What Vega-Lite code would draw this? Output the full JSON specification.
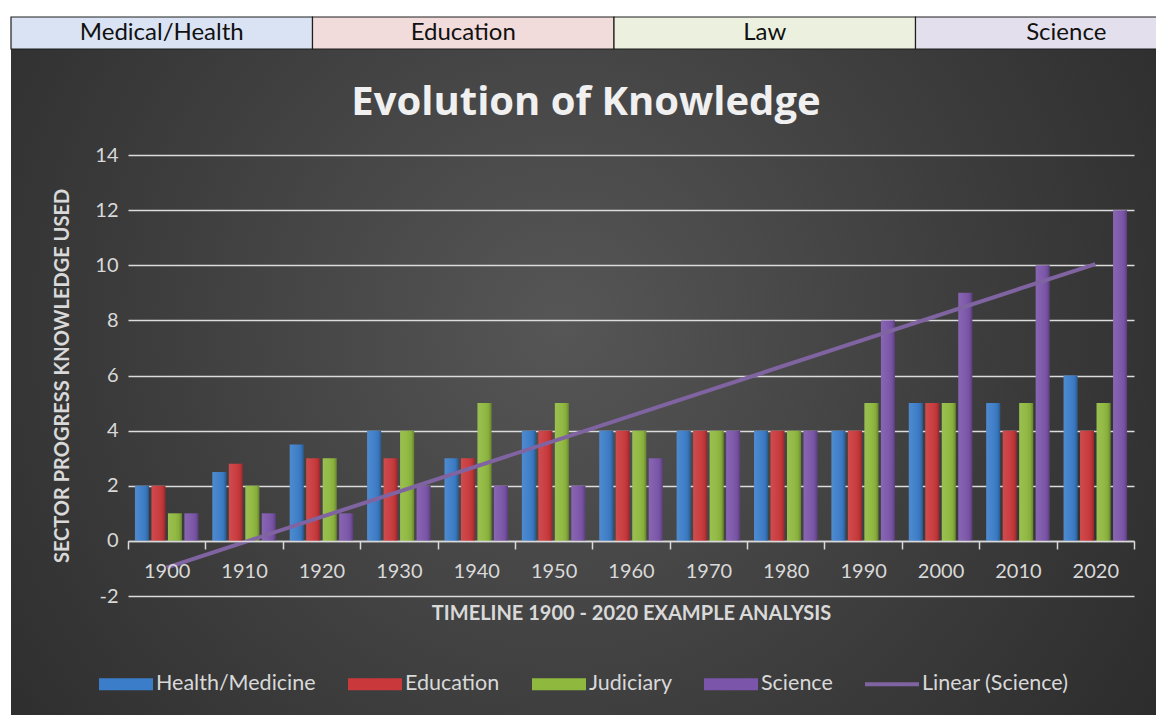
{
  "$schema": "https://vega.github.io/schema/vega-lite/v6.json",
  "background": "white",
  "padding": {"left": 10, "top": 16, "right": -60, "bottom": 0},
  "config": {"view": {"stroke": null}, "font": "Lato"},
  "bounds": "flush",
  "spacing": 106,
  "resolve": {"scale": {"color": "independent"}, "legend": {"color": "independent"}},
  "vconcat": [
    {
      "width": 1006,
      "height": 32,
      "data": {"values": [
        {"sector": "Medical/Health"},
        {"sector": "Education"},
        {"sector": "Law"},
        {"sector": "Science"}
      ]},
      "layer": [
        {
          "mark": {
            "type": "rect",
            "fill": {
              "gradient": "radial",
              "x1": 0.48, "y1": 0.45, "r1": 0,
              "x2": 0.48, "y2": 0.45, "r2": 0.72,
              "stops": [
                {"offset": 0, "color": "#565656"},
                {"offset": 0.5, "color": "#3d3d3d"},
                {"offset": 1, "color": "#262626"}
              ]
            }
          },
          "encoding": {
            "x": {"datum": 0, "type": "quantitative", "scale": {"domain": [0, 1], "range": [-117, 1029], "nice": false}, "axis": null},
            "x2": {"datum": 1},
            "y": {"datum": 0, "type": "quantitative", "scale": {"domain": [0, 1], "range": [32, 699], "nice": false}, "axis": null},
            "y2": {"datum": 1}
          }
        },
        {
          "mark": {"type": "rect", "stroke": "#1e1e1e", "strokeWidth": 1.2},
          "encoding": {
            "x": {"field": "sector", "type": "nominal", "sort": null, "scale": {"range": [-117, 1089], "paddingInner": 0, "paddingOuter": 0}, "axis": null},
            "color": {
              "field": "sector", "type": "nominal", "sort": null,
              "scale": {"domain": ["Medical/Health", "Education", "Law", "Science"], "range": ["#dae3f3", "#f2dcdb", "#ebf1de", "#e4dfec"]},
              "legend": null
            }
          }
        },
        {
          "mark": {"type": "text", "fontSize": 24, "color": "#111111"},
          "encoding": {
            "x": {"field": "sector", "type": "nominal", "sort": null, "scale": {"range": [-117, 1089], "paddingInner": 0, "paddingOuter": 0}, "axis": null},
            "text": {"field": "sector"}
          }
        }
      ],
      "resolve": {"scale": {"x": "independent", "y": "independent"}}
    },
    {
      "width": 1006,
      "height": 441,
      "title": {
        "text": "Evolution of Knowledge",
        "font": "Open Sans",
        "fontSize": 40,
        "fontWeight": "bold",
        "color": "#f0f0f0",
        "anchor": "middle",
        "frame": "group",
        "dx": -45,
        "offset": 22
      },
      "data": {"values": [
        {"year": 1900, "series": "Health/Medicine", "value": 2},
        {"year": 1900, "series": "Education", "value": 2},
        {"year": 1900, "series": "Judiciary", "value": 1},
        {"year": 1900, "series": "Science", "value": 1},
        {"year": 1910, "series": "Health/Medicine", "value": 2.5},
        {"year": 1910, "series": "Education", "value": 2.8},
        {"year": 1910, "series": "Judiciary", "value": 2},
        {"year": 1910, "series": "Science", "value": 1},
        {"year": 1920, "series": "Health/Medicine", "value": 3.5},
        {"year": 1920, "series": "Education", "value": 3},
        {"year": 1920, "series": "Judiciary", "value": 3},
        {"year": 1920, "series": "Science", "value": 1},
        {"year": 1930, "series": "Health/Medicine", "value": 4},
        {"year": 1930, "series": "Education", "value": 3},
        {"year": 1930, "series": "Judiciary", "value": 4},
        {"year": 1930, "series": "Science", "value": 2},
        {"year": 1940, "series": "Health/Medicine", "value": 3},
        {"year": 1940, "series": "Education", "value": 3},
        {"year": 1940, "series": "Judiciary", "value": 5},
        {"year": 1940, "series": "Science", "value": 2},
        {"year": 1950, "series": "Health/Medicine", "value": 4},
        {"year": 1950, "series": "Education", "value": 4},
        {"year": 1950, "series": "Judiciary", "value": 5},
        {"year": 1950, "series": "Science", "value": 2},
        {"year": 1960, "series": "Health/Medicine", "value": 4},
        {"year": 1960, "series": "Education", "value": 4},
        {"year": 1960, "series": "Judiciary", "value": 4},
        {"year": 1960, "series": "Science", "value": 3},
        {"year": 1970, "series": "Health/Medicine", "value": 4},
        {"year": 1970, "series": "Education", "value": 4},
        {"year": 1970, "series": "Judiciary", "value": 4},
        {"year": 1970, "series": "Science", "value": 4},
        {"year": 1980, "series": "Health/Medicine", "value": 4},
        {"year": 1980, "series": "Education", "value": 4},
        {"year": 1980, "series": "Judiciary", "value": 4},
        {"year": 1980, "series": "Science", "value": 4},
        {"year": 1990, "series": "Health/Medicine", "value": 4},
        {"year": 1990, "series": "Education", "value": 4},
        {"year": 1990, "series": "Judiciary", "value": 5},
        {"year": 1990, "series": "Science", "value": 8},
        {"year": 2000, "series": "Health/Medicine", "value": 5},
        {"year": 2000, "series": "Education", "value": 5},
        {"year": 2000, "series": "Judiciary", "value": 5},
        {"year": 2000, "series": "Science", "value": 9},
        {"year": 2010, "series": "Health/Medicine", "value": 5},
        {"year": 2010, "series": "Education", "value": 4},
        {"year": 2010, "series": "Judiciary", "value": 5},
        {"year": 2010, "series": "Science", "value": 10},
        {"year": 2020, "series": "Health/Medicine", "value": 6},
        {"year": 2020, "series": "Education", "value": 4},
        {"year": 2020, "series": "Judiciary", "value": 5},
        {"year": 2020, "series": "Science", "value": 12}
      ]},
      "layer": [
        {
          "mark": {"type": "bar"},
          "encoding": {
            "x": {
              "field": "year", "type": "ordinal",
              "scale": {"paddingInner": 0, "paddingOuter": 0},
              "axis": {
                "title": "TIMELINE 1900 - 2020 EXAMPLE ANALYSIS",
                "offset": -55,
                "labelAngle": 0,
                "labelFontSize": 20,
                "labelColor": "#d9d9d9",
                "labelPadding": 12,
                "tickBand": "extent",
                "tickSize": 8,
                "tickColor": "#d9d9d9",
                "tickWidth": 1.5,
                "domainColor": "#d9d9d9",
                "domainWidth": 1.5,
                "titleFontSize": 20,
                "titleFontWeight": "bold",
                "titleColor": "#d9d9d9",
                "titlePadding": 22,
                "grid": false,
                "zindex": 1
              }
            },
            "xOffset": {
              "field": "series", "type": "nominal",
              "sort": ["Health/Medicine", "Education", "Judiciary", "Science"],
              "scale": {"paddingInner": 0.15, "paddingOuter": 0.42}
            },
            "y": {
              "field": "value", "type": "quantitative", "stack": null,
              "scale": {"domain": [-2, 14], "nice": false, "zero": false},
              "axis": {
                "title": "SECTOR PROGRESS KNOWLEDGE USED",
                "values": [-2, 0, 2, 4, 6, 8, 10, 12, 14],
                "labelExpr": "'' + datum.value",
                "grid": true,
                "gridColor": "#dcdcdc",
                "gridWidth": 1.5,
                "domain": false,
                "ticks": false,
                "labelPadding": 10,
                "labelFontSize": 20,
                "labelColor": "#d9d9d9",
                "titleFontSize": 20,
                "titleFontWeight": "bold",
                "titleColor": "#d9d9d9",
                "titlePadding": 22
              }
            },
            "color": {
              "field": "series", "type": "nominal",
              "scale": {
                "domain": ["Health/Medicine", "Education", "Judiciary", "Science", "Linear (Science)"],
                "range": ["#3b7dc8", "#c9383b", "#8fb83e", "#7b55a9", "#8064a2"]
              },
              "legend": {
                "title": null,
                "orient": "none",
                "legendX": -29,
                "legendY": 502,
                "direction": "horizontal",
                "symbolSize": 2916,
                "symbolStrokeWidth": 0,
                "labelFontSize": 21.5,
                "labelColor": "#d9d9d9",
                "labelOffset": 3,
                "labelLimit": 400,
                "columnPadding": 32,
                "encode": {
                  "symbols": {
                    "update": {
                      "shape": {"signal": "datum.value === 'Linear (Science)' ? 'M-1,-0.07H1V0.07H-1Z' : 'M-1,-0.22H1V0.22H-1Z'"}
                    }
                  }
                }
              }
            }
          }
        },
        {
          "mark": {
            "type": "bar",
            "fill": {
              "gradient": "linear",
              "x1": 0, "y1": 0, "x2": 1, "y2": 0,
              "stops": [
                {"offset": 0, "color": "rgba(255,255,255,0.10)"},
                {"offset": 0.45, "color": "rgba(255,255,255,0.04)"},
                {"offset": 0.8, "color": "rgba(0,0,0,0.06)"},
                {"offset": 1, "color": "rgba(0,0,0,0.28)"}
              ]
            }
          },
          "encoding": {
            "x": {"field": "year", "type": "ordinal"},
            "xOffset": {"field": "series", "type": "nominal", "sort": ["Health/Medicine", "Education", "Judiciary", "Science"]},
            "y": {"field": "value", "type": "quantitative", "stack": null}
          }
        },
        {
          "transform": [
            {"filter": "datum.series === 'Science'"},
            {"regression": "value", "on": "year"}
          ],
          "mark": {"type": "line", "strokeWidth": 4},
          "encoding": {
            "x": {"field": "year", "type": "ordinal"},
            "y": {"field": "value", "type": "quantitative"},
            "color": {"datum": "Linear (Science)"}
          }
        }
      ]
    }
  ]
}
